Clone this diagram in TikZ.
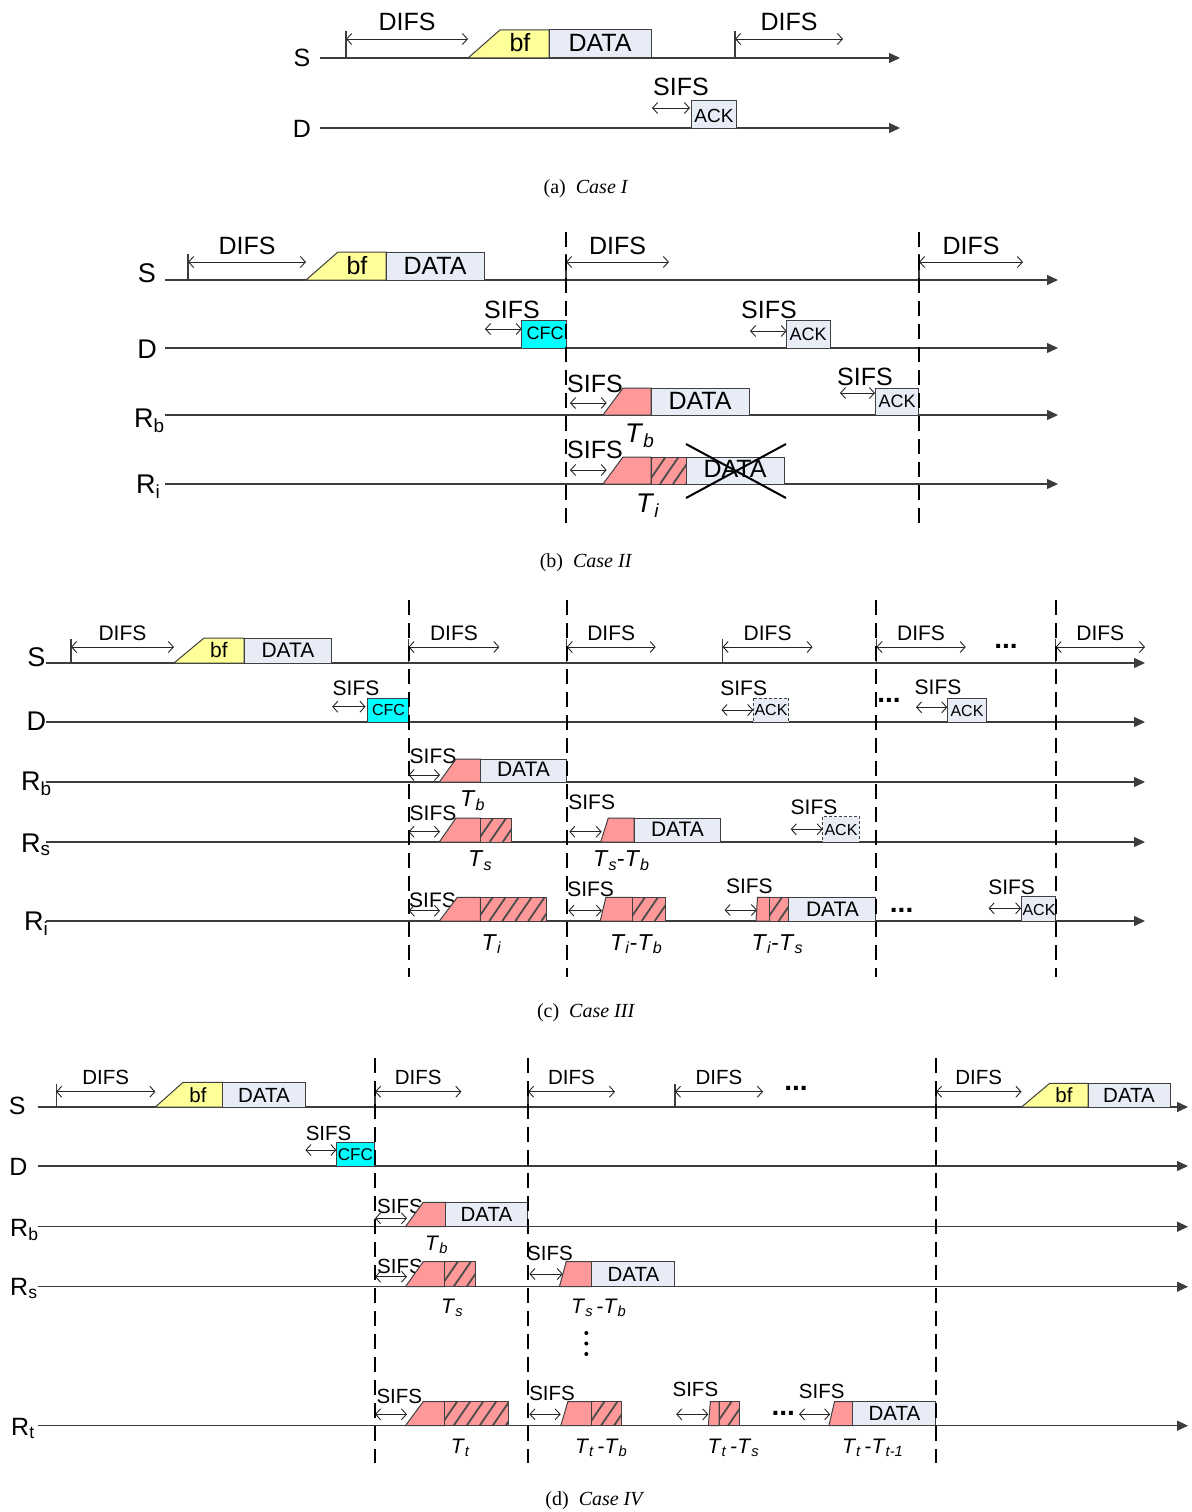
\documentclass[tikz,border=0pt]{standalone}
\usepackage{fontspec}
\setmainfont{Liberation Sans}
\newfontfamily\capfont{Liberation Serif}
\usetikzlibrary{arrows.meta}
\definecolor{yel}{HTML}{FFFF99}
\definecolor{dat}{HTML}{E7ECF6}
\definecolor{cfc}{HTML}{00FFFF}
\definecolor{sal}{HTML}{FF9999}
\definecolor{lin}{HTML}{3C3C3C}
\newcommand\fsz[1]{\fontsize{#1}{#1}\selectfont}
\newcommand\Tl[1]{\textit{T}\textsubscript{\textit{#1}}}
\newcommand\Rl[1]{R\textsubscript{#1}}
\newcommand\recbox[5]{\filldraw[boxl,fill=#5] (#1,#2) rectangle (#3,#4);}
\newcommand\drecbox[5]{\filldraw[dboxl,fill=#5] (#1,#2) rectangle (#3,#4);}
\newcommand\trap[6]{\filldraw[boxl,fill=#6] (#1,#5) -- (#2,#3) -- (#4,#3) -- (#4,#5) -- cycle;}
\newcommand\hatchbox[4]{\begin{scope}\clip (#1,#2) rectangle (#3,#4); \fill[sal] (#1,#2) rectangle (#3,#4); \foreach \k in {0,13,...,130}{\draw[hatchl] ({#1-30+\k},#4) -- ++(22,-32);}\end{scope}\draw[boxl] (#1,#2) rectangle (#3,#4);}
\newcommand\sifs[3]{\draw[dimar] (#1,#3) -- (#2,#3);}
\newcommand\difsm[5]{\draw[tickl] (#1,#3) -- (#1,#4-8); \draw[dimar] (#1,#4) -- (#2,#4); \node at ({(#1+#2)/2},#5) {DIFS};}
\begin{document}
\begin{tikzpicture}[x=1pt,y=-1pt,
 every node/.style={inner sep=0pt},
 tline/.style={draw=lin,line width=1.4pt,-{Triangle[length=11pt,width=10pt]}},
 vdash/.style={draw=black,line width=2pt,dash pattern=on 15pt off 8pt},
 dimar/.style={draw=black!85,line width=0.9pt,{Straight Barb[length=5pt,width=11pt]}-{Straight Barb[length=5pt,width=11pt]}},
 tickl/.style={draw=lin,line width=1.2pt},
 boxl/.style={draw=black!75,line width=1pt},
 dboxl/.style={draw=black!75,line width=1pt,dash pattern=on 3pt off 2pt},
 hatchl/.style={draw=black!70,line width=1.8pt},
 xline/.style={draw=black,line width=2pt},
 dotsn/.style={font=\fsz{28}\bfseries},
 capt/.style={font=\capfont\fsz{20},anchor=base},
]
\fill[white] (0,0) rectangle (1191,1512);
\useasboundingbox (0,0) rectangle (1191,1512);
% ---------------- (a)
\begin{scope}[every node/.append style={font=\fsz{25}}]
\draw[tline] (320,58) -- (900,58);
\draw[tline] (320,128) -- (900,128);
\node (aS) at (302,57.5) {S};
\node (aD) at (302,129) {D};
\difsm{346}{468}{58}{39}{22}
\trap{468}{500}{30}{549}{58}{yel}
\recbox{549}{30}{651}{58}{dat}
\node (abf) at (520,43) {bf};
\node (adata) at (600,43) {DATA};
\difsm{735}{843}{58}{39}{22}
\node (asifs) at (681,87) {SIFS};
\sifs{652}{690}{108}
\recbox{691}{100}{736}{128}{dat}
\node[font=\fsz{19}] (aack) at (714,116) {ACK};
\node[capt] (acap) at (586,193) {(a)\hspace{0.5em}\textit{Case I}};
\end{scope}
% ---------------- (b)
\begin{scope}[every node/.append style={font=\fsz{25}}]
\foreach \yy in {280,348,415,484} \draw[tline] (165,\yy) -- (1058,\yy);
\node[font=\fsz{27}] (bS) at (147,273) {S};
\node[font=\fsz{27}] (bD) at (147,349.5) {D};
\node[font=\fsz{27},anchor=base west] (bRb) at (134,427) {\Rl{b}};
\node[font=\fsz{27},anchor=base west] (bRi) at (136,493) {\Rl{i}};
\difsm{188}{306}{280}{262}{246}
\trap{306}{338}{252}{386}{280}{yel}
\recbox{386}{252}{484}{280}{dat}
\node (bbf) at (357,266) {bf};
\node (bdata) at (435,266) {DATA};
\difsm{566}{669}{280}{262}{246}
\difsm{919}{1023}{280}{262}{246}
\node (bs1) at (512,310) {SIFS};
\sifs{485}{521.7}{329}
\recbox{521.7}{320.7}{566.7}{348}{cfc}
\node[font=\fsz{18}] (bcfc) at (545,333) {CFC};
\node (bs2) at (769,310) {SIFS};
\sifs{750}{786.7}{331}
\recbox{786.7}{320}{830}{348}{dat}
\node[font=\fsz{18}] (back1) at (808,334) {ACK};
\node (bs3) at (595,384) {SIFS};
\sifs{570}{606.7}{403}
\trap{603}{623}{388}{651}{415}{sal}
\recbox{651}{388}{749}{415}{dat}
\node (bdata2) at (700,401) {DATA};
\node[font=\fsz{27},anchor=base west] (bTb) at (625,442) {\Tl{b}};
\node (bs4) at (865,377) {SIFS};
\sifs{840}{875}{393}
\recbox{875}{388}{918.5}{415}{dat}
\node[font=\fsz{18}] (back2) at (897,401.5) {ACK};
\node (bs5) at (595,450) {SIFS};
\sifs{570}{606.7}{470}
\trap{603}{623}{457}{651}{484}{sal}
\hatchbox{651}{457}{686}{484}
\recbox{686}{457}{784}{484}{dat}
\node (bdata3) at (735,469) {DATA};
\draw[xline] (686,444) -- (786,498);
\draw[xline] (686,498) -- (786,444);
\node[font=\fsz{27},anchor=base west] (bTi) at (636,512) {\Tl{i}};
\draw[vdash] (566,232) -- (566,525);
\draw[vdash] (919,232) -- (919,525);
\node[capt] (bcap) at (586,567) {(b)\hspace{0.5em}\textit{Case II}};
\end{scope}
% ---------------- (c)
\begin{scope}[every node/.append style={font=\fsz{21}}]
\foreach \yy in {663,722,782,842,921} \draw[tline] (46,\yy) -- (1145,\yy);
\node[font=\fsz{27}] (cS) at (36.4,656.7) {S};
\node[font=\fsz{27}] (cD) at (36.4,721.7) {D};
\node[font=\fsz{27},anchor=base west] (cRb) at (21,790) {\Rl{b}};
\node[font=\fsz{27},anchor=base west] (cRs) at (21,852) {\Rl{s}};
\node[font=\fsz{27},anchor=base west] (cRi) at (24,930) {\Rl{i}};
\difsm{71}{174}{663}{647}{633}
\trap{174}{204}{638}{244.2}{663}{yel}
\recbox{244.2}{638}{331.4}{663}{dat}
\node (cbf) at (219,650) {bf};
\node (cdata) at (288,650) {DATA};
\difsm{408.5}{499.4}{663}{647}{633}
\difsm{566.7}{655.7}{663}{647}{633}
\difsm{722.6}{812.6}{663}{647}{633}
\difsm{876.4}{965.7}{663}{647}{633}
\node[dotsn] (cdots1) at (1006,646) {...};
\difsm{1055.6}{1145}{663}{647}{633}
% D
\node (cs1) at (356,688.3) {SIFS};
\sifs{332.2}{365.5}{706.7}
\recbox{367.4}{698.3}{408.7}{722}{cfc}
\node[font=\fsz{16}] (ccfc) at (388.5,710) {CFC};
\node (cs2) at (743.7,688.3) {SIFS};
\sifs{721.5}{753.3}{710}
\drecbox{753.3}{698.3}{788.9}{722}{dat}
\node[font=\fsz{16}] (cack1) at (771,710) {ACK};
\node[dotsn] (cdots2) at (889,700) {...};
\node (cs3) at (938,687.3) {SIFS};
\sifs{916}{947.3}{707.3}
\recbox{947.3}{698.3}{986.7}{722}{dat}
\node[font=\fsz{16}] (cack2) at (967,711) {ACK};
% Rb
\node (cs4) at (433,756) {SIFS};
\sifs{408.5}{440}{775}
\trap{439.3}{456}{759}{480.7}{782}{sal}
\recbox{480.7}{759}{566.7}{782}{dat}
\node (cdata2) at (523.5,769.5) {DATA};
\node[font=\fsz{23},anchor=base west] (cTb) at (460,806.7) {\Tl{b}};
% Rs
\node (cs5) at (433,813) {SIFS};
\sifs{408.5}{440}{831.7}
\trap{439.3}{456}{818}{480.7}{842}{sal}
\hatchbox{480.7}{818}{511.7}{842}
\node[font=\fsz{23},anchor=base west] (cTs) at (468,866.7) {\Tl{s}};
\node (cs6) at (591.7,802) {SIFS};
\sifs{569.3}{601.7}{831.7}
\trap{600.7}{608.3}{818}{634}{842}{sal}
\recbox{634}{818}{720.7}{842}{dat}
\node (cdata3) at (677.5,829.5) {DATA};
\node[font=\fsz{23},anchor=base west] (cTsb) at (593,866.7) {\Tl{s}-\Tl{b}};
\node (cs7) at (814,807.5) {SIFS};
\sifs{790.7}{822.7}{829.3}
\drecbox{822.7}{816.7}{859.3}{842}{dat}
\node[font=\fsz{16}] (cack3) at (841,829.5) {ACK};
% Ri
\node (cs8) at (432.5,900.5) {SIFS};
\sifs{408.7}{440}{910.7}
\trap{439.3}{457.3}{897.3}{480.3}{921}{sal}
\hatchbox{480.3}{897.3}{546.5}{921}
\node[font=\fsz{23},anchor=base west] (cTi) at (481.4,950) {\Tl{i}};
\node (cs9) at (590.6,889.7) {SIFS};
\sifs{568.4}{602}{910.7}
\trap{600.2}{605.9}{897.3}{632.7}{921}{sal}
\hatchbox{632.7}{897.3}{665.2}{921}
\node[font=\fsz{23},anchor=base west] (cTib) at (609.8,950) {\Tl{i}-\Tl{b}};
\node (cs10) at (749.4,886.3) {SIFS};
\sifs{724.6}{757}{910}
\trap{756}{757.5}{897.3}{769.7}{921}{sal}
\hatchbox{769.7}{897.3}{788.9}{921}
\recbox{788.9}{897.3}{875.7}{921}{dat}
\node (cdata4) at (832.5,909) {DATA};
\node[font=\fsz{23},anchor=base west] (cTis) at (751.4,950) {\Tl{i}-\Tl{s}};
\node[dotsn] (cdots3) at (901.6,910) {...};
\node (cs11) at (1011.6,887.3) {SIFS};
\sifs{988.6}{1021.2}{908.3}
\recbox{1021.2}{896.7}{1055.6}{921}{dat}
\node[font=\fsz{16}] (cack4) at (1039,909.5) {ACK};
\foreach \xx in {408.5,566.7,876.4,1055.6} \draw[vdash] (\xx,600) -- (\xx,977);
\node[capt] (ccap) at (586,1017) {(c)\hspace{0.5em}\textit{Case III}};
\end{scope}
% ---------------- (d)
\begin{scope}[every node/.append style={font=\fsz{20.5}}]
\foreach \yy in {1107,1166,1226.7,1286.7,1425.7} \draw[tline] (37.5,\yy) -- (1188,\yy);
\node[font=\fsz{25}] (dS) at (17.3,1106) {S};
\node[font=\fsz{25}] (dD) at (18.4,1166.7) {D};
\node[font=\fsz{25},anchor=base west] (dRb) at (10,1236.7) {\Rl{b}};
\node[font=\fsz{25},anchor=base west] (dRs) at (10,1295) {\Rl{s}};
\node[font=\fsz{25},anchor=base west] (dRt) at (11,1435) {\Rl{t}};
\difsm{56.1}{155.4}{1107}{1091.7}{1077}
\trap{155.4}{183}{1082.3}{222.5}{1107}{yel}
\recbox{222.5}{1082.3}{305.4}{1107}{dat}
\node (dbf) at (198,1095) {bf};
\node (ddata) at (264,1095) {DATA};
\difsm{375}{461.4}{1107}{1091.7}{1077}
\difsm{528}{615}{1107}{1091.7}{1077}
\difsm{674.9}{763}{1107}{1091.7}{1077}
\node[dotsn] (ddots1) at (796,1088) {...};
\difsm{936}{1021.5}{1107}{1091.7}{1077}
\trap{1021.5}{1049.7}{1083.3}{1088.2}{1107}{yel}
\recbox{1088.2}{1083.3}{1170.4}{1107}{dat}
\node (dbf2) at (1064,1095.5) {bf};
\node (ddata2) at (1129,1095.5) {DATA};
% D
\node (ds1) at (328.6,1133.3) {SIFS};
\sifs{305.4}{336.4}{1150}
\recbox{336.4}{1142.7}{374.3}{1166}{cfc}
\node[font=\fsz{17}] (dcfc) at (355.4,1154.5) {CFC};
% Rb
\node (ds2) at (400,1206.5) {SIFS};
\sifs{375}{407}{1218.3}
\trap{405.4}{423.2}{1202.3}{445.7}{1226.7}{sal}
\recbox{445.7}{1202.3}{527.9}{1226.7}{dat}
\node (ddata3) at (486.5,1214) {DATA};
\node[font=\fsz{21},anchor=base west] (dTb) at (425,1250) {\Tl{b}};
% Rs
\node (ds3) at (400,1266.7) {SIFS};
\sifs{375}{407}{1276.7}
\trap{405.4}{423.2}{1261.7}{444.6}{1286.7}{sal}
\hatchbox{444.6}{1261.7}{475}{1286.7}
\node[font=\fsz{21},anchor=base west] (dTs) at (441,1313) {\Tl{s}};
\node (ds4) at (550,1253.3) {SIFS};
\sifs{529.4}{562.8}{1274}
\trap{559.4}{566.2}{1261.7}{591.9}{1286.7}{sal}
\recbox{591.9}{1261.7}{674}{1286.7}{dat}
\node (ddata4) at (633.4,1274) {DATA};
\node[font=\fsz{21},anchor=base west] (dTsb) at (571,1313) {\Tl{s}\,-\Tl{b}};
\foreach \yy in {1333,1343.5,1354} \fill (586.3,\yy) circle (2pt);
% Rt
\node (ds5) at (399.3,1396.7) {SIFS};
\sifs{375}{407}{1414.3}
\trap{405.4}{423.2}{1401.7}{444.6}{1425.7}{sal}
\hatchbox{444.6}{1401.7}{508.2}{1425.7}
\node[font=\fsz{21},anchor=base west] (dTt) at (450.7,1453) {\Tl{t}};
\node (ds6) at (552.1,1393.3) {SIFS};
\sifs{529.4}{560.7}{1414.3}
\trap{560.7}{567.9}{1401.7}{591.9}{1425.7}{sal}
\hatchbox{591.9}{1401.7}{621.8}{1425.7}
\node[font=\fsz{21},anchor=base west] (dTtb) at (574.8,1453) {\Tl{t}\,-\Tl{b}};
\node (ds7) at (695.4,1389.3) {SIFS};
\sifs{676.2}{708.3}{1414.3}
\trap{708.3}{710.4}{1401.7}{719}{1425.7}{sal}
\hatchbox{719}{1401.7}{739.1}{1425.7}
\node[font=\fsz{21},anchor=base west] (dTts) at (707.4,1453) {\Tl{t}\,-\Tl{s}};
\node[dotsn] (ddots2) at (783.2,1413) {...};
\node (ds8) at (821.7,1391.7) {SIFS};
\sifs{799}{830.2}{1414.3}
\trap{828.9}{834.5}{1401.7}{852.9}{1425.7}{sal}
\recbox{852.9}{1401.7}{935}{1425.7}{dat}
\node (ddata5) at (894.4,1413.5) {DATA};
\node[font=\fsz{21},anchor=base west] (dTtt) at (841.8,1453) {\Tl{t}\,-\Tl{t-1}};
\foreach \xx in {375,528,936} \draw[vdash] (\xx,1058) -- (\xx,1462.7);
\node[capt] (dcap) at (595,1505) {(d)\hspace{0.5em}\textit{Case IV}};
\end{scope}
\end{tikzpicture}
\end{document}
